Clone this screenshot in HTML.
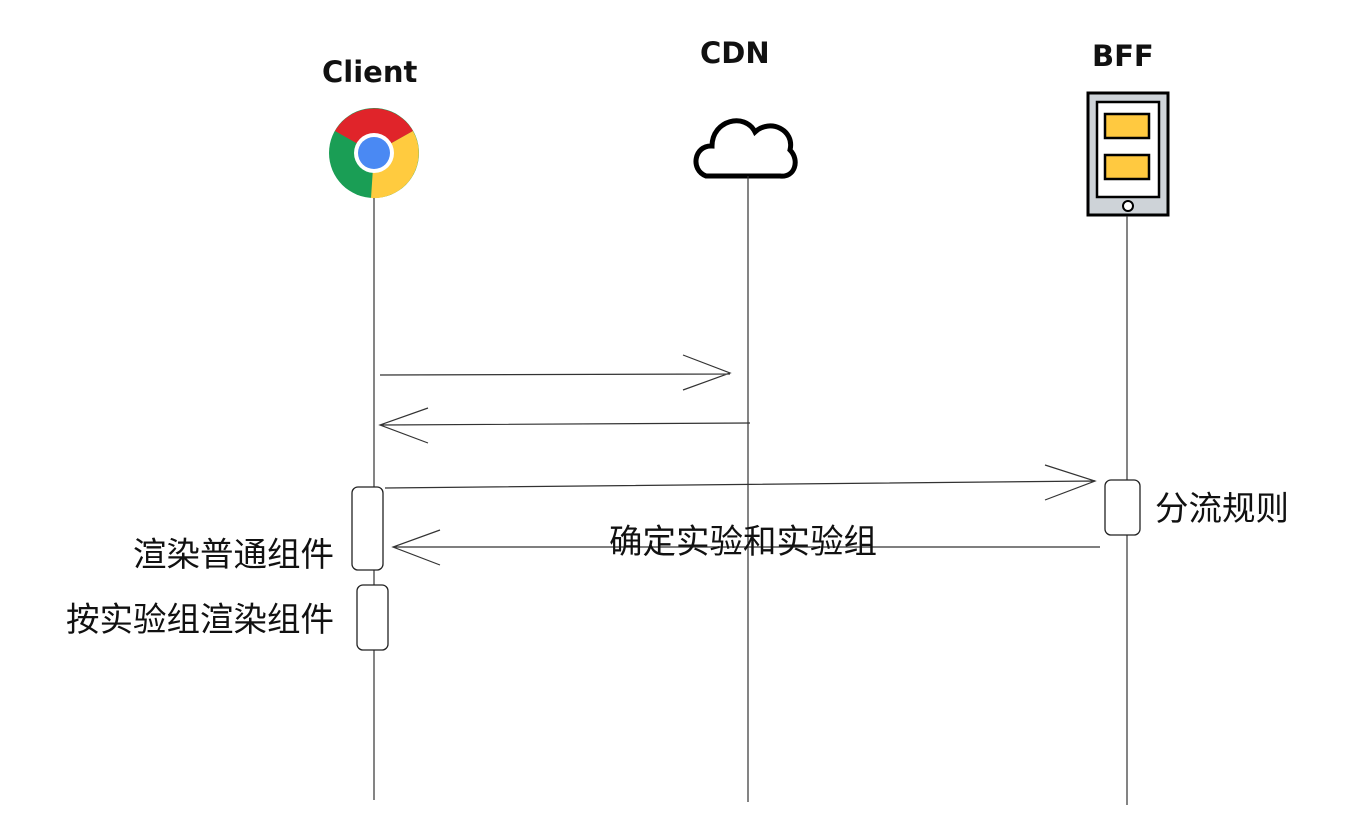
<!DOCTYPE html>
<html><head><meta charset="utf-8"><style>
body{margin:0;background:#fff;width:1362px;height:832px;overflow:hidden}
svg{position:absolute;left:0;top:0}
.t{font-family:"Liberation Sans","Noto Sans CJK SC",sans-serif;font-size:33.5px;fill:#111}
.h{font-family:"DejaVu Sans",sans-serif;font-size:29px;font-weight:bold;fill:#111}
</style></head><body>
<svg width="1362" height="832" viewBox="0 0 1362 832">
<text class="h" x="322" y="82">Client</text>
<text class="h" x="700" y="63">CDN</text>
<text class="h" x="1092" y="66">BFF</text>
<g transform="translate(374,153)">
<circle r="45" fill="#1a9e55"/>
<path d="M0 0 L-39 -22 A45 45 0 0 1 39 -22 Z" fill="#e0242a"/>
<path d="M0 0 L39 -22 A45 45 0 0 1 -3 45 Z" fill="#ffcb3f"/>
<circle r="20" fill="#fff"/><circle r="16" fill="#4a89f3"/>
</g>
<path d="M706 176 C690 170 694 145 712 146 C712 120 745 112 755 132 C770 118 795 130 790 150 C800 160 795 178 780 176 Z" fill="none" stroke="#000" stroke-width="5"/>
<rect x="1088" y="93" width="80" height="122" fill="#ced3d8" stroke="#000" stroke-width="3"/>
<rect x="1097" y="102" width="62" height="95" fill="#fff" stroke="#000" stroke-width="2.5"/>
<rect x="1105" y="114" width="44" height="24" fill="#ffc940" stroke="#000" stroke-width="2.5"/>
<rect x="1105" y="155" width="44" height="24" fill="#ffc940" stroke="#000" stroke-width="2.5"/>
<circle cx="1128" cy="206" r="5" fill="#fff" stroke="#000" stroke-width="2"/>
<g stroke="#333" stroke-width="1.2" fill="none">
<line x1="374" y1="198" x2="374" y2="800"/>
<line x1="748" y1="176" x2="748" y2="802"/>
<line x1="1127" y1="216" x2="1127" y2="805"/>
<path d="M380 375 L730 374 M683 355 L730 373 L683 390"/>
<path d="M750 423 L380 425 M428 408 L380 425 L428 443"/>
<path d="M385 488 L1095 481 M1045 465 L1095 481 L1045 500"/>
<path d="M1100 547 L393 547 M440 530 L393 547 L440 565"/>
</g>
<g fill="#fff" stroke="#222" stroke-width="1.3">
<rect x="352" y="487" width="31" height="83" rx="6"/>
<rect x="357" y="585" width="31" height="65" rx="6"/>
<rect x="1105" y="480" width="35" height="55" rx="6"/>
</g>
<text class="t" x="1155" y="520">分流规则</text>
<text class="t" x="609" y="553">确定实验和实验组</text>
<text class="t" x="133" y="566">渲染普通组件</text>
<text class="t" x="66" y="631">按实验组渲染组件</text>
</svg>
</body></html>
